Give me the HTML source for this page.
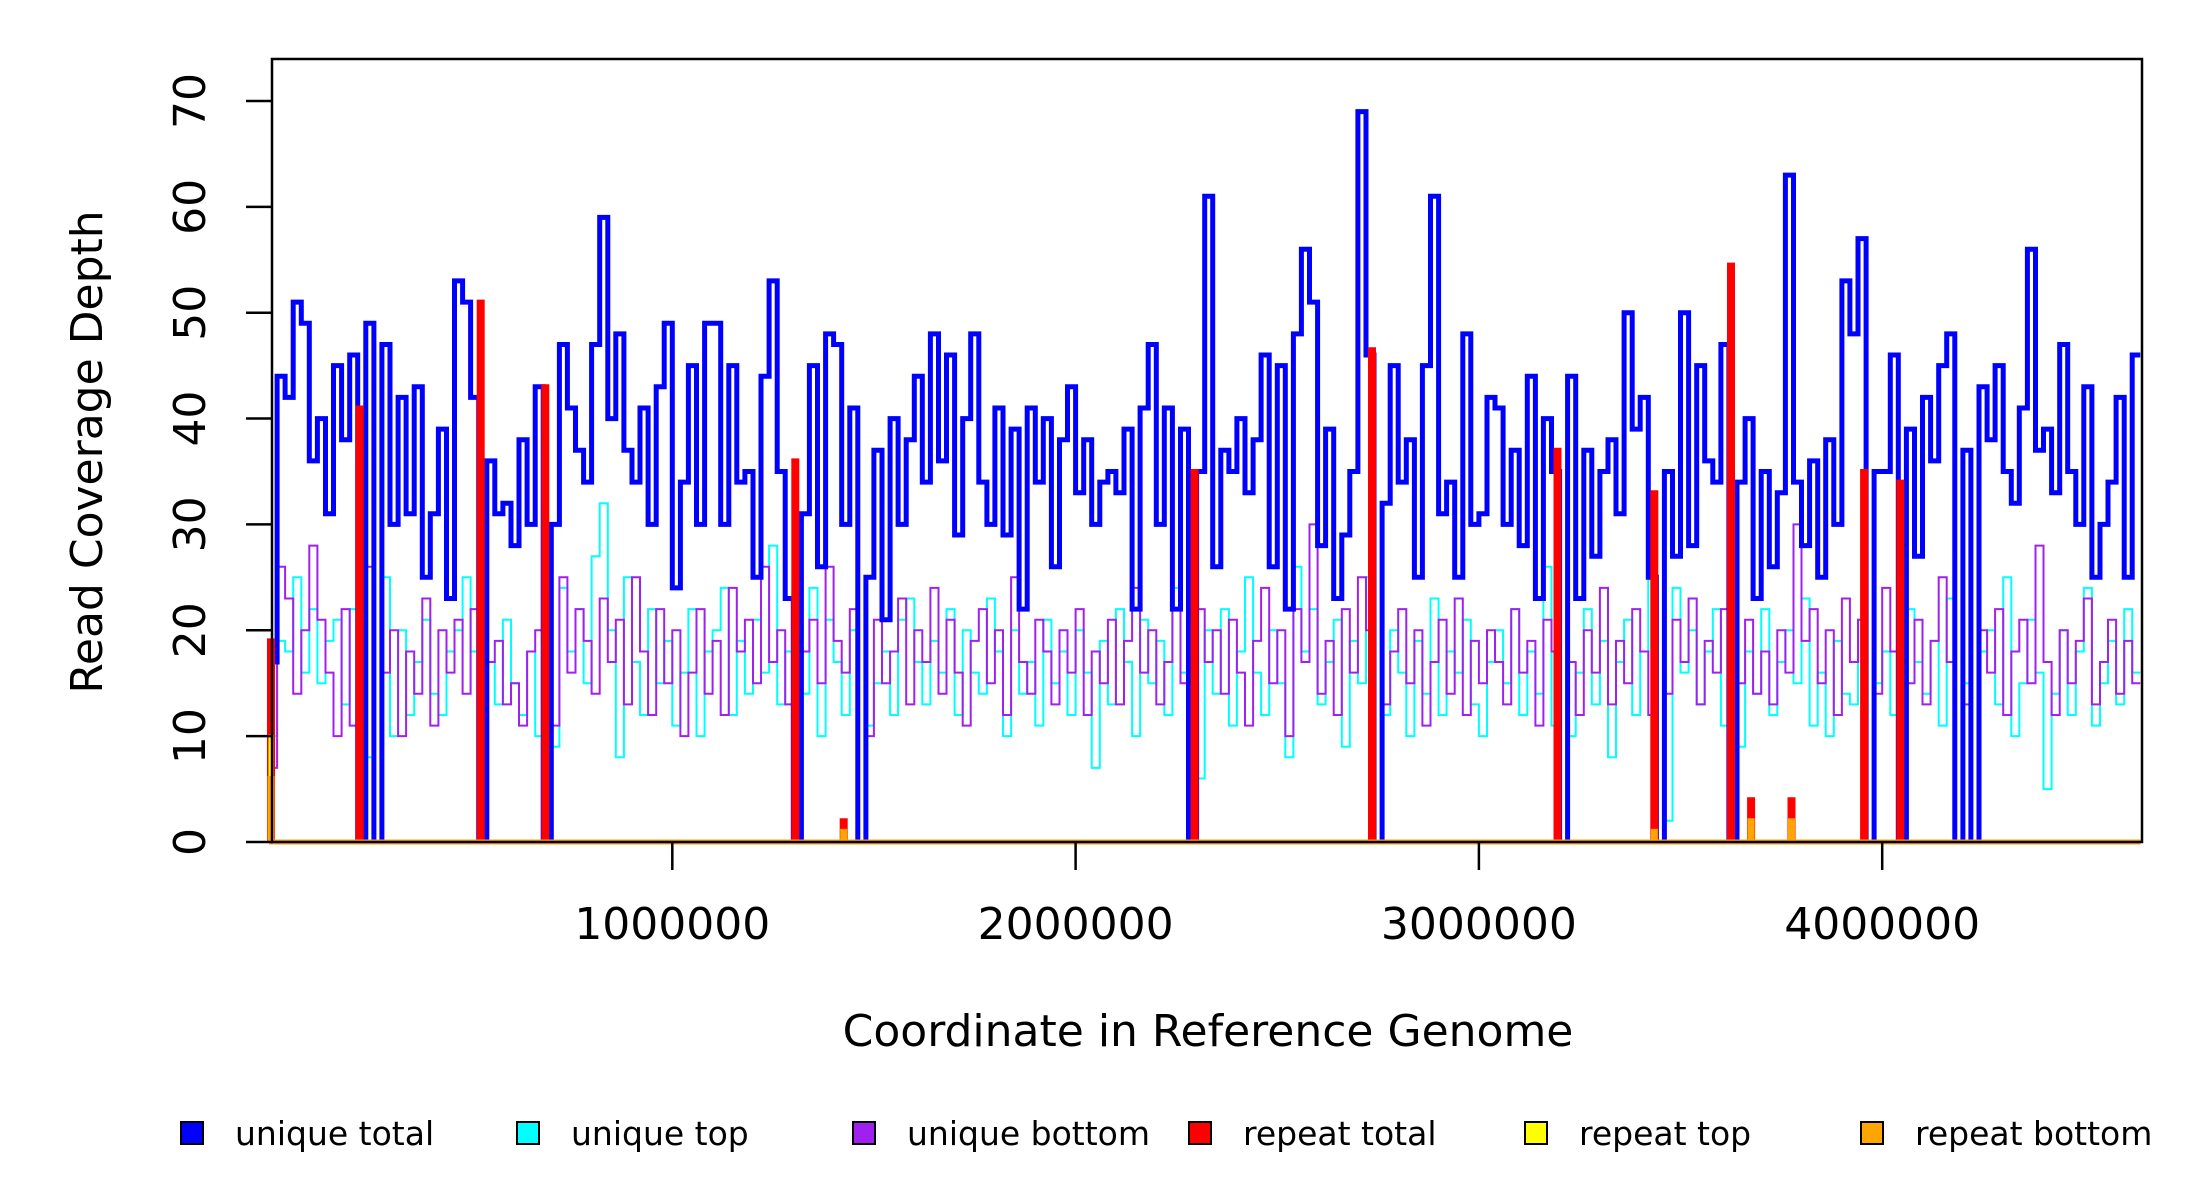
<!DOCTYPE html>
<html><head><meta charset="utf-8"><style>
html,body{margin:0;padding:0;background:#fff;}
svg{display:block;font-family:"DejaVu Sans","Liberation Sans",sans-serif;}
</style></head><body>
<svg id="chart" width="2200" height="1200" viewBox="0 0 2200 1200" xmlns="http://www.w3.org/2000/svg">
<g id="series"></g>
<rect x="272" y="59" width="1870" height="783" fill="none" stroke="#000" stroke-width="2.5"/>
<g id="axes"></g>
<text transform="translate(102,452) rotate(-90)" text-anchor="middle" font-size="44">Read Coverage Depth</text>
<text x="1208" y="1046" text-anchor="middle" font-size="44">Coordinate in Reference Genome</text>
<g id="legend"></g>
</svg>
<script>
const binSize = 20000;
const uniqueTotal = [17,44,42,51,49,36,40,31,45,38,46,0,49,0,47,30,42,31,43,25,
31,39,23,53,51,42,0,36,31,32,28,38,30,43,0,30,47,41,37,34,
47,59,40,48,37,34,41,30,43,49,24,34,45,30,49,49,30,45,34,35,
25,44,53,35,23,0,31,45,26,48,47,30,41,0,25,37,21,40,30,38,
44,34,48,36,46,29,40,48,34,30,41,29,39,22,41,34,40,26,38,43,
33,38,30,34,35,33,39,22,41,47,30,41,22,39,0,35,61,26,37,35,
40,33,38,46,26,45,22,48,56,51,28,39,23,29,35,69,46,0,32,45,
34,38,25,45,61,31,34,25,48,30,31,42,41,30,37,28,44,23,40,35,
0,44,23,37,27,35,38,31,50,39,42,25,0,35,27,50,28,45,36,34,
47,0,34,40,23,35,26,33,63,34,28,36,25,38,30,53,48,57,0,35,
35,46,0,39,27,42,36,45,48,0,37,0,43,38,45,35,32,41,56,37,
39,33,47,35,30,43,25,30,34,42,25,46];
const uniqueTop = [10,19,18,25,16,22,15,19,21,13,22,0,8,0,25,10,20,12,17,21,
14,12,18,20,25,18,0,17,13,21,15,12,18,10,0,9,24,18,22,15,
27,32,20,8,25,17,12,22,15,19,11,16,22,10,18,20,24,12,19,14,
21,16,28,13,18,0,14,24,10,21,17,12,20,0,11,15,18,12,21,23,
17,13,19,16,22,12,20,16,14,23,18,10,20,14,17,11,21,15,18,12,
20,16,7,19,13,22,17,10,21,15,19,12,24,16,0,6,20,14,22,11,
18,25,16,12,20,15,8,26,18,22,13,17,21,9,19,15,25,0,12,20,
16,10,19,14,23,12,18,16,21,13,10,17,20,15,22,12,18,14,26,11,
0,10,16,22,13,19,8,17,21,12,18,30,0,2,24,16,20,13,18,22,
11,0,9,18,14,22,12,17,20,15,23,11,16,10,19,14,13,21,0,15,
18,12,0,22,17,14,19,11,23,0,15,0,18,20,13,25,10,15,21,16,
5,14,20,12,18,24,11,15,19,13,22,16];
const uniqueBottom = [7,26,23,14,20,28,21,16,10,22,11,0,26,0,16,20,10,18,14,23,
11,20,16,21,14,22,0,17,19,13,15,11,18,20,0,11,25,16,22,19,
14,23,17,21,13,25,18,12,22,15,20,10,16,22,14,19,12,24,18,21,
15,26,17,20,13,0,18,21,15,26,19,16,22,0,10,21,15,18,23,13,
20,17,24,14,21,16,11,19,22,15,20,12,25,17,14,21,18,13,20,16,
22,12,18,15,21,13,19,24,16,20,13,17,22,15,0,22,17,20,14,21,
16,11,19,24,15,20,10,22,17,30,14,19,12,22,16,25,20,0,13,18,
22,15,20,11,17,21,14,23,12,19,15,20,17,13,22,16,19,11,21,18,
0,17,12,20,16,24,13,19,15,22,18,12,0,14,21,17,23,13,19,16,
22,0,15,21,14,18,13,20,16,30,19,22,15,20,12,23,17,21,0,14,
24,18,0,15,21,13,19,25,17,0,13,0,20,16,22,12,18,21,15,28,
17,12,20,15,19,23,13,17,21,14,19,15];
const repeatTotalPos = [5000,225000,525000,685000,1305000,1425000,2295000,2735000,3195000,3435000,3625000,3675000,3775000,3955000,4045000];
const repeatTotalVals = [19,41,51,43,36,2,35,46.5,37,33,54.5,4,4,35,34];
const repeatTopPos = [5000];
const repeatTopVals = [10];
const repeatBottomPos = [5000,1425000,3435000,3675000,3775000];
const repeatBottomVals = [6,1,1,2,2];
const yTicks = [0,10,20,30,40,50,60,70];
const xTicks = [1000000,2000000,3000000,4000000];
const legendLabels = ["unique total","unique top","unique bottom","repeat total","repeat top","repeat bottom"];
const legendColors = ["#0000ff","#00ffff","#a020f0","#ff0000","#ffff00","#ffa500"];

const NS="http://www.w3.org/2000/svg";
const genomeLen = uniqueTotal.length*binSize;
function xs(bp){return 269 + bp*0.0004033;}
function ys(v){return 842 - v*10.586;}
function stepPath(vals){
  let d="";
  for(let i=0;i<vals.length;i++){
    const x0=xs(i*binSize), x1=xs((i+1)*binSize), y=ys(vals[i]);
    d += (i===0?"M":"L")+x0.toFixed(1)+","+y.toFixed(1)+"L"+x1.toFixed(1)+","+y.toFixed(1);
  }
  return d;
}
function spikePath(pos,vals,w){
  let d="M"+xs(0).toFixed(1)+","+ys(0);
  pos.forEach((p,i)=>{
    const xc=xs(p);
    d+="L"+(xc-w/2).toFixed(1)+","+ys(0)+"L"+(xc-w/2).toFixed(1)+","+ys(vals[i]).toFixed(1)+"L"+(xc+w/2).toFixed(1)+","+ys(vals[i]).toFixed(1)+"L"+(xc+w/2).toFixed(1)+","+ys(0);
  });
  d+="L"+xs(genomeLen).toFixed(1)+","+ys(0);
  return d;
}
const g=document.getElementById("series");
function addPath(d,color,w,name){
  const p=document.createElementNS(NS,"path");
  p.setAttribute("d",d);
  p.setAttribute("fill","none");
  p.setAttribute("stroke",color);
  p.setAttribute("stroke-width",w);
  
  
  g.appendChild(p);
}
addPath(stepPath(uniqueTop),"#00ffff",2,"unique-top-line");
addPath(stepPath(uniqueBottom),"#a020f0",2,"unique-bottom-line");
addPath(stepPath(uniqueTotal),"#0000ff",5,"unique-total-line");
addPath(spikePath(repeatTotalPos,repeatTotalVals,3),"#ff0000",5,"repeat-total-line");
addPath(spikePath(repeatTopPos,repeatTopVals,2),"#ffff00",3,"repeat-top-line");
addPath(spikePath(repeatBottomPos,repeatBottomVals,2),"#ffa500",5,"repeat-bottom-line");

const ax=document.getElementById("axes");
yTicks.forEach(v=>{
  const l=document.createElementNS(NS,"line");
  l.setAttribute("x1",246);l.setAttribute("x2",272);
  l.setAttribute("y1",ys(v));l.setAttribute("y2",ys(v));
  l.setAttribute("stroke","#000");l.setAttribute("stroke-width",2.5);
  
  
  ax.appendChild(l);
  const t=document.createElementNS(NS,"text");
  t.setAttribute("transform","translate(205,"+ys(v)+") rotate(-90)");
  t.setAttribute("text-anchor","middle");t.setAttribute("font-size","44");
  t.textContent=v;
  
  
  ax.appendChild(t);
});
xTicks.forEach(v=>{
  const l=document.createElementNS(NS,"line");
  l.setAttribute("x1",xs(v));l.setAttribute("x2",xs(v));
  l.setAttribute("y1",842);l.setAttribute("y2",870);
  l.setAttribute("stroke","#000");l.setAttribute("stroke-width",2.5);
  
  
  ax.appendChild(l);
  const t=document.createElementNS(NS,"text");
  t.setAttribute("x",xs(v));t.setAttribute("y",939);
  t.setAttribute("text-anchor","middle");t.setAttribute("font-size","44");
  t.textContent=v;
  
  
  ax.appendChild(t);
});
const lg=document.getElementById("legend");
legendLabels.forEach((lab,i)=>{
  const cx=192+i*336;
  const r=document.createElementNS(NS,"rect");
  r.setAttribute("x",cx-11);r.setAttribute("y",1122);
  r.setAttribute("width",22);r.setAttribute("height",22);
  r.setAttribute("fill",legendColors[i]);r.setAttribute("stroke","#000");r.setAttribute("stroke-width",2);
  
  
  lg.appendChild(r);
  const t=document.createElementNS(NS,"text");
  t.setAttribute("x",cx+43);t.setAttribute("y",1145);
  t.setAttribute("font-size","33");
  t.textContent=lab;
  
  
  lg.appendChild(t);
});
</script>
</body></html>
